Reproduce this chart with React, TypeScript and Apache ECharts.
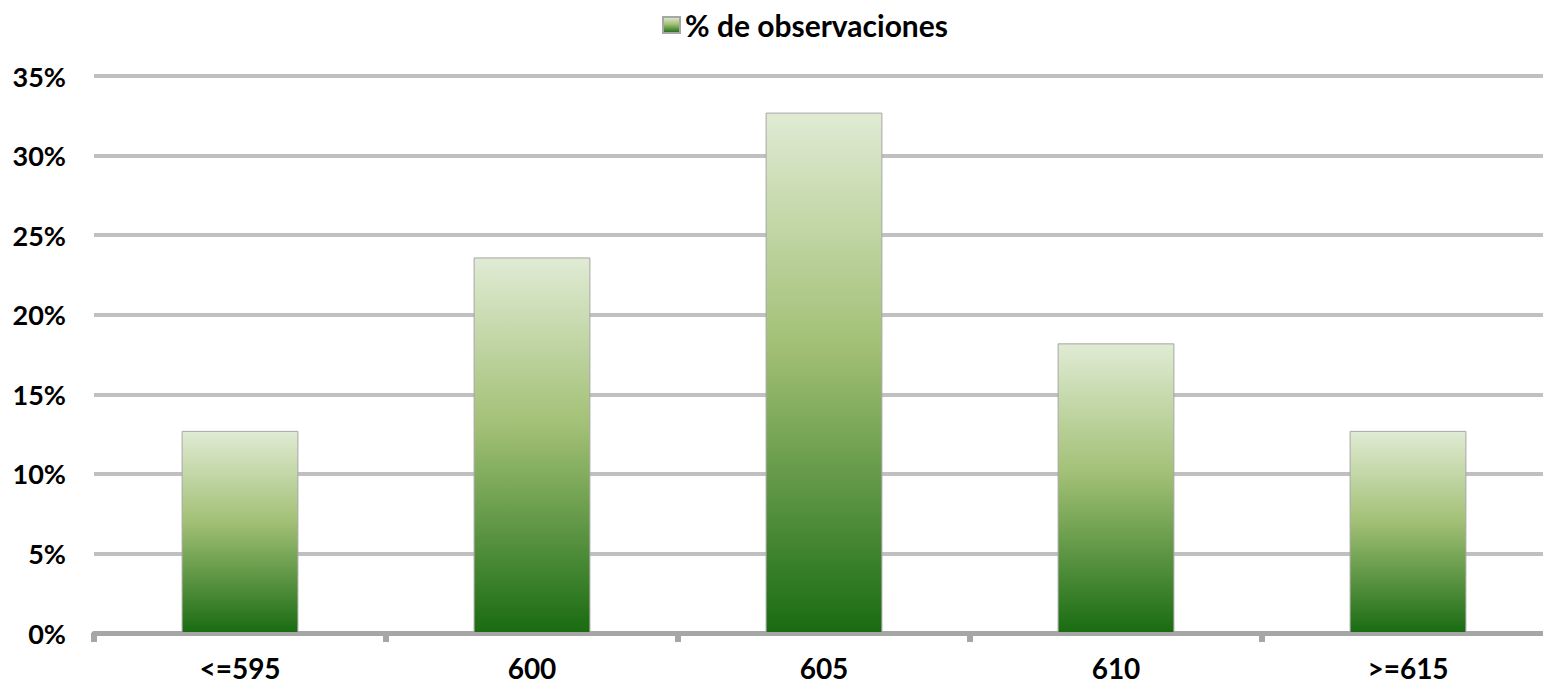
import React, { useEffect, useRef } from "react";
import * as echarts from "echarts";

const categories = ["<=595", "600", "605", "610", ">=615"];
const seriesName = "% de observaciones";
const values = [12.7, 23.6, 32.7, 18.2, 12.7];
const yMax = 35;
const yInterval = 5;

const FONT = "Lato";

export default function App() {
  const ref = useRef<HTMLDivElement>(null);
  useEffect(() => {
    document.body.style.margin = "0";
    if (!ref.current) return;
    const chart = echarts.init(ref.current, null, { renderer: "svg" });
    const grad = new echarts.graphic.LinearGradient(0, 0, 0, 1, [
      { offset: 0, color: "#e0ebd4" },
      { offset: 0.45, color: "#a2c075" },
      { offset: 1, color: "#196b12" },
    ]);
    chart.setOption({
      animation: false,
      backgroundColor: "#ffffff",
      legend: {
        show: true,
        top: 5,
        left: 657,
        itemWidth: 17,
        itemHeight: 16,
        itemGap: 4,
        icon: "rect",
        textStyle: { fontFamily: FONT, fontWeight: "bold", fontSize: 30, color: "#000" },
        data: [seriesName],
      },
      grid: {
        left: 94,
        width: 1460,
        top: 76,
        bottom: 59,
        containLabel: false,
        outerBoundsMode: "none",
      },
      xAxis: {
        type: "category",
        data: categories,
        boundaryGap: true,
        axisLine: { show: true, lineStyle: { color: "#a6a6a6", width: 5 } },
        axisTick: { show: true, inside: false, length: 9, lineStyle: { color: "#a6a6a6", width: 6 } },
        axisLabel: { margin: 21, fontFamily: FONT, fontWeight: "bold", fontSize: 28, color: "#000" },
      },
      yAxis: {
        type: "value",
        min: 0,
        max: yMax,
        interval: yInterval,
        axisLine: { show: false },
        axisTick: { show: false },
        axisLabel: {
          margin: 28,
          formatter: "{value}%",
          fontFamily: FONT,
          fontWeight: "bold",
          fontSize: 27,
          color: "#000",
        },
        splitLine: { show: true, lineStyle: { color: "#c0c0c0", width: 4 } },
      },
      series: [
        {
          name: seriesName,
          type: "bar",
          data: values,
          barWidth: "40%",
          itemStyle: { color: grad, borderColor: "#a6a6a6", borderWidth: 1 },
        },
      ],
    });
    return () => chart.dispose();
  }, []);
  return <div ref={ref} style={{ width: 1543, height: 692 }} />;
}
